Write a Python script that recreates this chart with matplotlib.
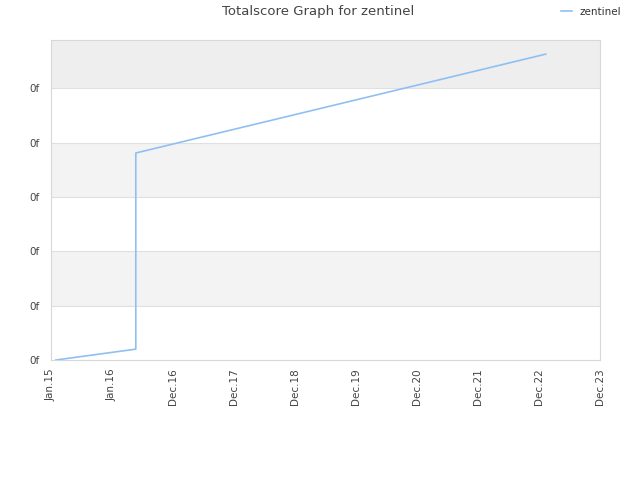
import matplotlib
matplotlib.use("Agg")
import matplotlib.pyplot as plt

# Data (x in tick-index units, y in tick-step units)
x_vals = [0.08, 1.39, 1.39, 8.11]
y_vals = [0.0, 0.20, 3.81, 5.63]
x_tick_labels = ["Jan.15", "Jan.16", "Dec.16", "Dec.17", "Dec.18",
                 "Dec.19", "Dec.20", "Dec.21", "Dec.22", "Dec.23"]
y_tick_labels = ["0f", "0f", "0f", "0f", "0f", "0f"]
series_name = "zentinel"

fig = plt.figure(figsize=(6.4, 4.8), dpi=100)
ax = fig.add_axes([51/640, 120/480, 549/640, 320/480])

ymax = 5.89
ax.set_xlim(0, 9)
ax.set_ylim(0, ymax)

# alternating bands
band_colors = ["white", "#f3f3f3", "white", "#f3f3f3", "white", "#eeeeee"]
edges = [0, 1, 2, 3, 4, 5, ymax]
for i in range(6):
    ax.axhspan(edges[i], edges[i+1], color=band_colors[i], zorder=0, lw=0)
for yv in range(1, 6):
    ax.axhline(yv, color="#e0e0e0", lw=0.8, zorder=1)

line, = ax.plot(x_vals, y_vals, color="#90c0f0", lw=1.2, zorder=3, label=series_name)

ax.set_xticks(range(len(x_tick_labels)))
ax.set_xticklabels(x_tick_labels, rotation=90, fontsize=7.5, color="#444444")
ax.set_yticks(range(len(y_tick_labels)))
ax.set_yticklabels(y_tick_labels, fontsize=7.5, color="#444444")
ax.tick_params(axis="x", length=0, pad=6)
ax.tick_params(axis="y", length=0, pad=8)

for s in ax.spines.values():
    s.set_color("#d8d8d8")
    s.set_linewidth(0.8)

fig.text(318/640, 1 - 12/480, "Totalscore Graph for zentinel", ha="center", va="center",
         fontsize=9.5, color="#444444")
fig.legend(handles=[line], loc="center right", bbox_to_anchor=(631/640, 1 - 12/480),
           frameon=False, fontsize=7.5, handlelength=1.0, handletextpad=0.8,
           labelcolor="#333333")

fig.savefig("out.png", dpi=100)
